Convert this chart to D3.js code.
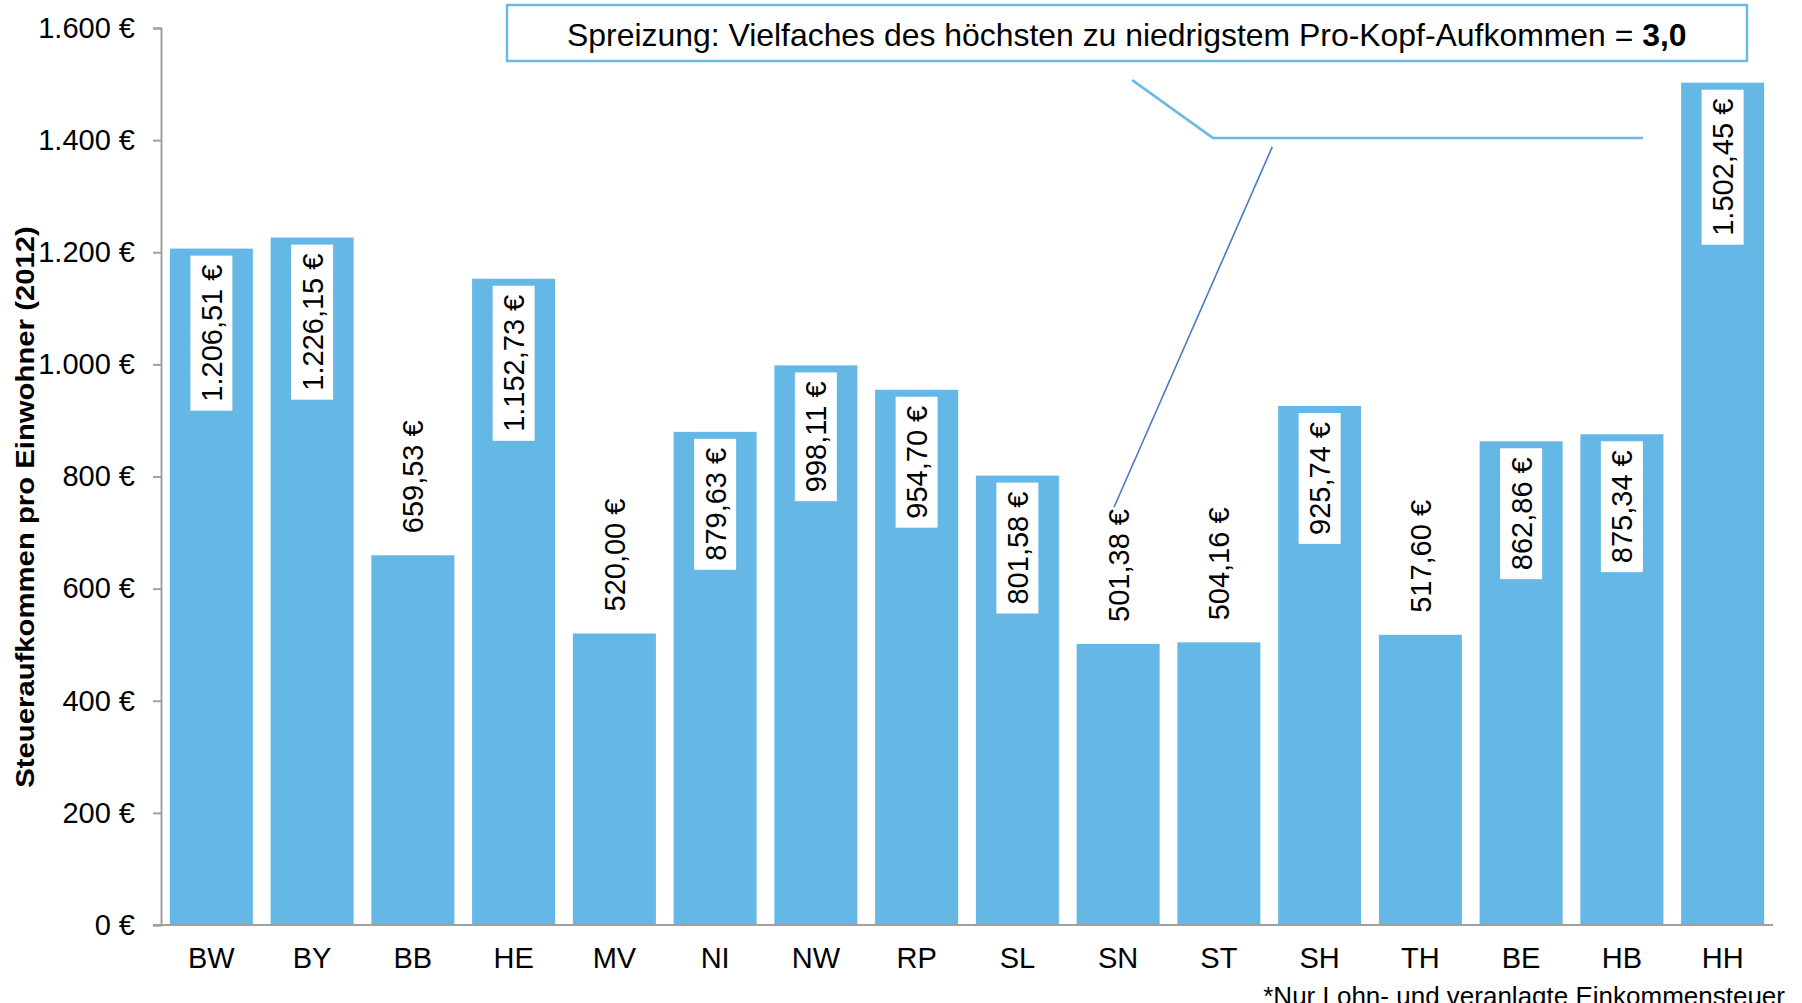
<!DOCTYPE html>
<html><head><meta charset="utf-8">
<script src="https://cdn.jsdelivr.net/npm/d3@7"></script>
<style>
html,body{margin:0;padding:0;background:#fff;}
svg{display:block;font-family:"Liberation Sans",Arial,sans-serif;}
</style></head>
<body>
<svg id="c" width="1802" height="1003"></svg>
<script>
const categories = ["BW","BY","BB","HE","MV","NI","NW","RP","SL","SN","ST","SH","TH","BE","HB","HH"];
const values = [1206.51,1226.15,659.53,1152.73,520.00,879.63,998.11,954.70,801.58,501.38,504.16,925.74,517.60,862.86,875.34,1502.45];
const yTicks = [0,200,400,600,800,1000,1200,1400,1600];
const yTitle = "Steueraufkommen pro Einwohner (2012)";
const noteText = "Spreizung: Vielfaches des höchsten zu niedrigstem Pro-Kopf-Aufkommen = ";
const noteValue = "3,0";
const footnote = "*Nur Lohn- und veranlagte Einkommensteuer";
// annotation connector points: [position in category steps, value]
const connectorLight = [[9.64,1507],[10.44,1404],[14.71,1404]];
const connectorDark = [[11.03,1388]];

const svg = d3.select("#c");
const BAR = "#65B8E5", AX = "#A0A0A0";
const fmt = v => {
  const s = v.toFixed(2).split(".");
  const i = s[0].replace(/\B(?=(\d{3})+(?!\d))/g, ".");
  return i + "," + s[1] + " €";
};
const fmtTick = v => String(v).replace(/\B(?=(\d{3})+(?!\d))/g, ".") + " €";

const x = d3.scaleBand().domain(categories).range([161,1773]).paddingInner(0.176).paddingOuter(0.088);
const y = d3.scaleLinear().domain([0,1600]).range([925,28]);
const xs = s => x.range()[0] + x.step()*s;

// bars
svg.append("g").selectAll("rect").data(values).join("rect")
  .attr("x",(d,i)=>x(categories[i])).attr("width",x.bandwidth())
  .attr("y",d=>y(d)).attr("height",d=>y(0)-y(d)).attr("fill",BAR);

// y axis
const ya = svg.append("g").attr("transform","translate(161,0)")
  .call(d3.axisLeft(y).tickValues(yTicks).tickSize(8).tickPadding(18).tickFormat(fmtTick));
ya.select(".domain").attr("stroke",AX).attr("stroke-width",2);
ya.selectAll(".tick line").attr("stroke",AX).attr("stroke-width",2);
ya.selectAll(".tick text").attr("font-size",29).attr("fill","#000").attr("font-family","Liberation Sans, Arial, sans-serif");

// x axis
const xa = svg.append("g").attr("transform","translate(0,925)")
  .call(d3.axisBottom(x).tickSize(0).tickPadding(22));
xa.select(".domain").attr("stroke",AX).attr("stroke-width",2).attr("d","M153,0H1773");
xa.selectAll(".tick text").attr("font-size",29).attr("fill","#000").attr("font-family","Liberation Sans, Arial, sans-serif");

// value labels
const lab = svg.append("g");
values.forEach((v,i)=>{
  const cx = x(categories[i]) + x.bandwidth()/2;
  const top = y(v);
  const inside = v > 700;
  const g = lab.append("g");
  const t = g.append("text").attr("font-size",29).attr("fill","#000")
    .attr("transform",`translate(${cx},${inside ? top+16 : top-22}) rotate(-90)`)
    .attr("text-anchor", inside ? "end" : "start")
    .attr("dy","0.36em").text(fmt(v));
  if(inside){
    const L = t.node().getComputedTextLength();
    g.insert("rect","text").attr("x",cx-21).attr("width",42)
      .attr("y",top+7).attr("height",L+18).attr("fill","#fff");
  }
});

// annotation box
svg.append("rect").attr("x",507).attr("y",5).attr("width",1240).attr("height",56)
  .attr("fill","#fff").attr("stroke","#6CB8E6").attr("stroke-width",2.5);
const nt = svg.append("text").attr("font-size",31).attr("fill","#000").attr("y",46).attr("x",0);
nt.append("tspan").text(noteText);
nt.append("tspan").attr("font-weight","bold").text(noteValue);
{
  const w = nt.node().getBBox().width;
  const target = 1120;
  nt.attr("transform",`translate(${1127 - target/2},0) scale(${target/w},1)`);
}

// connectors
svg.append("path").attr("fill","none").attr("stroke","#6CB8E6").attr("stroke-width",2.5)
  .attr("d", d3.line()(connectorLight.map(p=>[xs(p[0]), y(p[1])])));
{
  const iSN = categories.indexOf("SN");
  const sn = values[iSN];
  const snLabel = lab.selectAll("text").nodes()[iSN];
  const L = snLabel.getComputedTextLength();
  const ex = x("SN") + x.bandwidth()/2 - 4;
  const ey = y(sn) - 22 - L - 2;
  const p0 = connectorDark[0];
  svg.append("line").attr("x1",xs(p0[0])).attr("y1",y(p0[1])).attr("x2",ex).attr("y2",ey)
    .attr("stroke","#4A7CC0").attr("stroke-width",1.6);
}

// y title
const yt = svg.append("text").attr("font-size",26).attr("font-weight","bold").attr("fill","#000")
  .attr("text-anchor","middle").text(yTitle);
{
  const w = yt.node().getComputedTextLength();
  yt.attr("transform",`translate(34,507) rotate(-90) scale(${562/w},1)`);
}

// footnote
svg.append("text").attr("font-size",26).attr("fill","#000").attr("text-anchor","end")
  .attr("x",1785).attr("y",1005).text(footnote);
</script>
</body></html>
